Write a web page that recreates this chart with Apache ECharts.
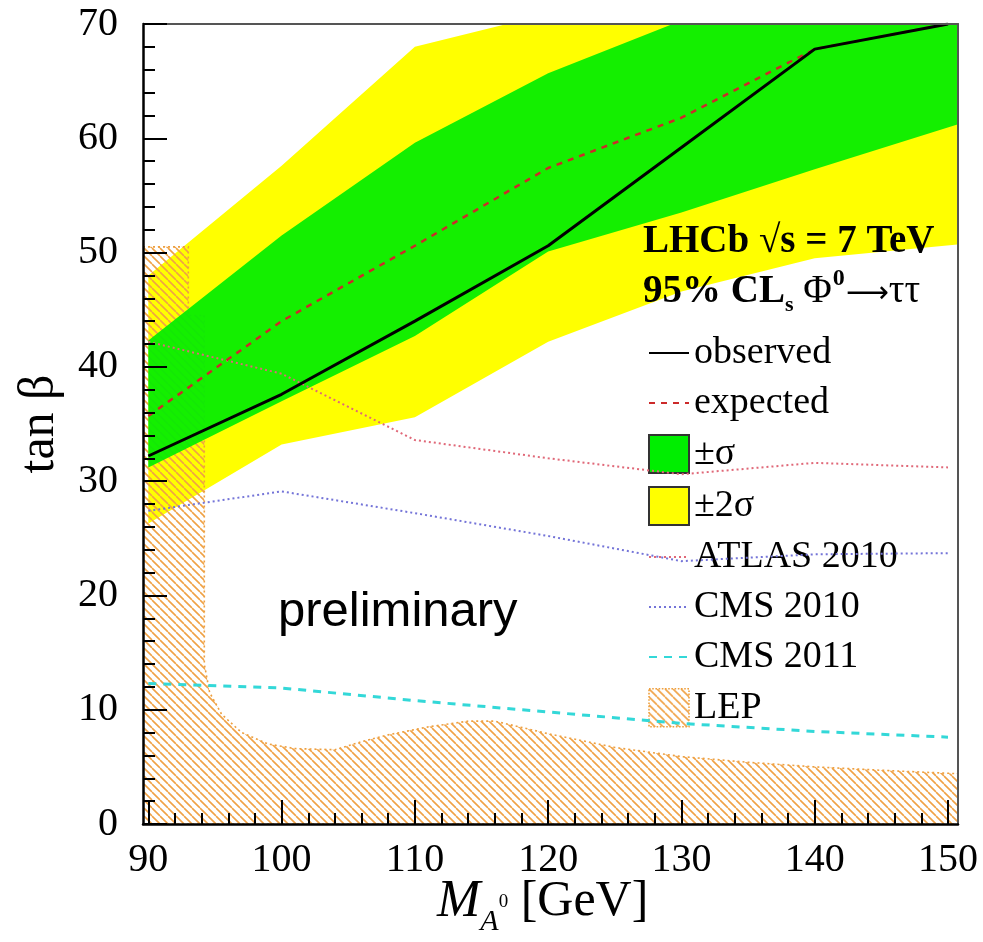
<!DOCTYPE html>
<html><head><meta charset="utf-8">
<script src="https://cdn.jsdelivr.net/npm/echarts@6/dist/echarts.min.js"></script>
<style>html,body{margin:0;padding:0;background:#fff}#c{width:983px;height:942px}</style>
</head><body><div id="c"></div>
<script>
// ---------------- data ----------------
const massX       = [90, 100, 110, 120, 130, 140, 150];
const observed    = [32.2, 37.6, 44.0, 50.6, 59.2, 67.8, 70.0];
const expected    = [35.7, 44.0, 50.6, 57.4, 61.8, 67.8, 70.0];
const atlas2010   = [42.2, 39.4, 33.6, 32.0, 30.6, 31.6, 31.2];
const cms2010     = [27.4, 29.1, 27.2, 25.2, 23.0, 23.6, 23.7];
const cms2011     = [12.3, 11.9, 10.8, 9.8, 8.8, 8.1, 7.6];
// bands, read from their left start to the right frame edge
const bandX       = [90, 100, 110, 120, 130, 140, 150.7];
const sigma1Upper = [42.3, 51.5, 59.6, 65.7, 70.3, 73.5, 76.0];
const sigma1Lower = [31.2, 37.0, 42.7, 50.1, 53.5, 57.3, 61.2];
const sigma2Upper = [48.0, 57.6, 68.0, 70.9, 73.5, 76.0, 78.0];
const sigma2Lower = [26.3, 33.2, 35.6, 42.2, 46.6, 49.5, 50.7];
// LEP excluded region outline (upper boundary)
const lepX = [89.6, 93.0, 93.0, 94.2, 94.2, 94.6, 95.5, 97, 99, 101, 104, 106, 108, 111, 114, 116, 120, 125, 130, 135, 140, 145, 150.75];
const lepY = [50.5, 50.5, 44.5, 44.5, 14.0, 11.5, 9.6, 8.0, 7.0, 6.6, 6.5, 7.2, 7.8, 8.5, 9.0, 9.0, 7.9, 6.7, 5.9, 5.4, 5.0, 4.7, 4.4];
// axis ticks
const xTickLabels = [90, 100, 110, 120, 130, 140, 150];
const xMinorTicks = [92,94,96,98,102,104,106,108,112,114,116,118,122,124,126,128,132,134,136,138,142,144,146,148];
const X_MIN = 89.6, X_MAX = 150.75;

// ---------------- helpers ----------------
function hatchCanvas() {
  const s = 8, c = document.createElement('canvas');
  c.width = s; c.height = s;
  const g = c.getContext('2d');
  g.strokeStyle = '#f0a246'; g.lineWidth = 1.6;
  g.beginPath();
  for (let k = -1; k <= 1; k++) { g.moveTo(k * s, 0); g.lineTo(k * s + s, s); }
  g.stroke();
  return c;
}
const hatch = { image: hatchCanvas(), repeat: 'repeat' };
const pairs = (xs, ys) => xs.map((x, i) => [x, ys[i]]);

function bandRender(upper, lower, fill, opacity) {
  return function (params, api) {
    if (params.dataIndex !== 0) return;
    const pts = [];
    bandX.forEach((x, i) => pts.push(api.coord([x, upper[i]])));
    for (let i = bandX.length - 1; i >= 0; i--) pts.push(api.coord([bandX[i], lower[i]]));
    return { type: 'polygon', shape: { points: pts }, style: { fill: fill, opacity: opacity } };
  };
}
function lepRender(params, api) {
  if (params.dataIndex !== 0) return;
  const pts = lepX.map((x, i) => api.coord([x, lepY[i]]));
  pts.push(api.coord([X_MAX, 0]));
  pts.push(api.coord([X_MIN, 0]));
  return { type: 'polygon', shape: { points: pts },
    style: { fill: hatch, stroke: '#eea040', lineWidth: 1.6, lineDash: [2, 3] } };
}

const mctx = document.createElement('canvas').getContext('2d');
function runText(x0, y, parts) {
  let x = x0; const els = [];
  parts.forEach(p => {
    const font = (p.style || 'normal') + ' ' + (p.weight || 'normal') + ' ' + p.size + 'px "' + (p.family || 'Liberation Serif') + '"';
    mctx.font = font;
    const w = mctx.measureText(p.t).width;
    els.push({ type: 'text', x: x, y: y + (p.dy || 0), z: 100,
      style: { text: p.t, font: font, fill: '#000', align: 'left', verticalAlign: 'middle',
               textAlign: 'left', textVerticalAlign: 'middle' } });
    x += w + (p.gap || 0);
  });
  return els;
}

const serif = 'Liberation Serif';
const graphics = []
  .concat(runText(643, 242, [{ t: 'LHCb \u221As = 7 TeV', size: 39, weight: 'bold' }]))
  .concat(runText(643, 292, [
    { t: '95% CL', size: 39, weight: 'bold' },
    { t: 's', size: 22, weight: 'bold', dy: 13 },
    { t: ' \u03A6', size: 39, gap: 1 },
    { t: '0', size: 24, weight: 'bold', dy: -13, gap: 1 },
    { t: '\u27F6', size: 30, family: 'DejaVu Sans', dy: 2, gap: 0 },
    { t: '\u03C4\u03C4', size: 39 }
  ]))
  .concat(runText(437, 902, [
    { t: 'M', size: 52, style: 'italic' },
    { t: 'A', size: 30, style: 'italic', dy: 20 },
    { t: '0', size: 19, dy: 0 },
    { t: ' [GeV]', size: 50 }
  ]))
  .concat(runText(278, 612, [{ t: 'preliminary', size: 49, family: 'Liberation Sans' }]));

// ---------------- chart ----------------
const chart = echarts.init(document.getElementById('c'), null, { renderer: 'canvas' });
const labelStyle = { fontFamily: serif, fontSize: 40, color: '#000' };
const noSymbol = { color: 'rgba(0,0,0,0)', borderColor: 'rgba(0,0,0,0)', borderWidth: 0 };
chart.setOption({
  animation: false,
  backgroundColor: '#fff',
  grid: { left: 143, right: 25, top: 24, bottom: 118 },
  xAxis: [
    { type: 'value', min: X_MIN, max: X_MAX, position: 'bottom', z: 10,
      axisLine: { show: true, lineStyle: { color: '#000', width: 2.5 } },
      axisTick: { show: true, inside: true, length: 24, customValues: xTickLabels, lineStyle: { color: '#000', width: 2 } },
      axisLabel: Object.assign({ customValues: xTickLabels, margin: 16 }, labelStyle),
      splitLine: { show: false } },
    { type: 'value', min: X_MIN, max: X_MAX, position: 'bottom', z: 10,
      axisLine: { show: false },
      axisTick: { show: true, inside: true, length: 11, customValues: xMinorTicks, lineStyle: { color: '#000', width: 2 } },
      axisLabel: { show: false }, splitLine: { show: false } },
    { type: 'value', min: X_MIN, max: X_MAX, position: 'top', z: 10,
      axisLine: { show: true, lineStyle: { color: '#555', width: 2 } },
      axisTick: { show: false }, axisLabel: { show: false }, splitLine: { show: false } }
  ],
  yAxis: [
    { type: 'value', min: 0, max: 70, interval: 10, position: 'left', z: 10,
      name: 'tan \u03B2', nameLocation: 'middle', nameRotate: 90, nameGap: 78,
      nameTextStyle: { fontFamily: serif, fontSize: 50, color: '#000' },
      axisLine: { show: true, lineStyle: { color: '#000', width: 2.5 } },
      axisTick: { show: true, inside: true, length: 24, lineStyle: { color: '#000', width: 2 } },
      minorTick: { show: true, splitNumber: 5, length: 12, lineStyle: { color: '#000', width: 2 } },
      axisLabel: Object.assign({ margin: 25 }, labelStyle),
      splitLine: { show: false } },
    { type: 'value', min: 0, max: 70, position: 'right', z: 10,
      axisLine: { show: true, lineStyle: { color: '#555', width: 2 } },
      axisTick: { show: false }, axisLabel: { show: false }, splitLine: { show: false } }
  ],
  legend: {
    orient: 'vertical', left: 643, top: 329, itemWidth: 40, itemHeight: 38, itemGap: 12,
    selectedMode: false,
    textStyle: { fontFamily: serif, fontSize: 38, color: '#000' },
    data: [
      { name: 'observed', itemStyle: noSymbol },
      { name: 'expected', itemStyle: noSymbol },
      { name: '\u00B1\u03C3', icon: 'rect', itemStyle: { color: '#00ee00', borderColor: '#333', borderWidth: 2 } },
      { name: '\u00B12\u03C3', icon: 'rect', itemStyle: { color: '#ffff00', borderColor: '#333', borderWidth: 2 } },
      { name: 'ATLAS 2010', itemStyle: noSymbol },
      { name: 'CMS 2010', itemStyle: noSymbol },
      { name: 'CMS 2011', itemStyle: noSymbol },
      { name: 'LEP', icon: 'rect', itemStyle: { color: hatch, borderColor: '#eea040', borderWidth: 1.6, borderType: 'dotted' } }
    ]
  },
  graphic: graphics,
  series: [
    { name: '\u00B12\u03C3', type: 'custom', z: 1, clip: true, data: [0],
      itemStyle: { color: '#ffff00' }, renderItem: bandRender(sigma2Upper, sigma2Lower, '#ffff00', 1) },
    { name: 'LEP', type: 'custom', z: 2, clip: true, data: [0],
      itemStyle: { color: hatch }, renderItem: lepRender },
    { name: '\u00B1\u03C3', type: 'custom', z: 3, clip: true, data: [0],
      itemStyle: { color: '#00ee00' }, renderItem: bandRender(sigma1Upper, sigma1Lower, '#00ee00', 0.92) },
    { name: 'ATLAS 2010', type: 'line', z: 4, symbol: 'none', clip: true, data: pairs(massX, atlas2010),
      lineStyle: { color: '#e06878', width: 2, type: [2, 3] }, itemStyle: { color: '#e06878' } },
    { name: 'CMS 2010', type: 'line', z: 4, symbol: 'none', clip: true, data: pairs(massX, cms2010),
      lineStyle: { color: '#7474d8', width: 2, type: [2, 3] }, itemStyle: { color: '#7474d8' } },
    { name: 'CMS 2011', type: 'line', z: 4, symbol: 'none', clip: true, data: pairs(massX, cms2011),
      lineStyle: { color: '#33d8d8', width: 3, type: [8, 7] }, itemStyle: { color: '#33d8d8' } },
    { name: 'expected', type: 'line', z: 5, symbol: 'none', clip: true, data: pairs(massX, expected),
      lineStyle: { color: '#cc2a2a', width: 2.5, type: [6, 6] }, itemStyle: { color: '#cc2a2a' } },
    { name: 'observed', type: 'line', z: 6, symbol: 'none', clip: true, data: pairs(massX, observed),
      lineStyle: { color: '#000', width: 3 }, itemStyle: { color: '#000' } }
  ]
});
</script></body></html>
